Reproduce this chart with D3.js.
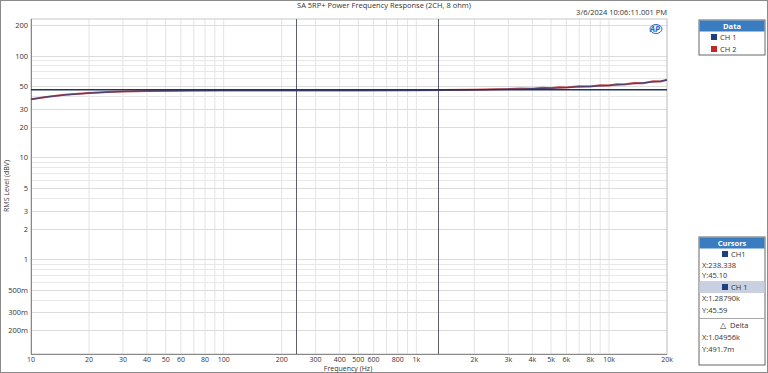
<!DOCTYPE html>
<html>
<head>
<meta charset="utf-8">
<script src="https://cdn.jsdelivr.net/npm/d3@7"></script>
<style>
  body { margin: 0; background: #fff; }
  svg text { font-family: "Open Sans", "Noto Sans", sans-serif; }
</style>
</head>
<body>
<div id="chart"></div>
<script>
const freq = [10, 12, 15, 20, 25, 30, 40, 50, 70, 100, 200, 500, 1000, 2000, 3000, 3500, 4000, 4500, 5000, 5500, 6000, 7000, 8000, 9000, 10000, 11000, 12000, 13500, 15000, 17000, 18500, 20000];
const ch1 = [37.2, 39.3, 41.2, 42.9, 43.8, 44.4, 44.9, 45.1, 45.3, 45.4, 45.5, 45.5, 45.6, 46.2, 46.8, 47.0, 47.4, 47.6, 48.0, 48.2, 48.6, 49.2, 49.8, 50.4, 51.0, 51.6, 52.3, 53.0, 54.0, 55.2, 56.2, 57.5];
const ch2 = [37.2, 39.3, 41.2, 42.9, 43.8, 44.4, 44.9, 45.1, 45.3, 45.4, 45.5, 45.5, 45.6, 46.3, 46.9, 47.6, 47.3, 48.3, 47.9, 49.0, 48.6, 50.0, 49.6, 51.2, 50.8, 52.4, 52.0, 53.8, 53.6, 56.0, 55.6, 58.0];
const refLevel = 46.2;
const cursorX = [238.338, 1287.90];

const xTicks = [10, 20, 30, 40, 50, 60, 80, 100, 200, 300, 400, 500, 600, 800, 1000, 2000, 3000, 4000, 5000, 6000, 8000, 10000, 20000];
const xTickLabels = ['10', '20', '30', '40', '50', '60', '80', '100', '200', '300', '400', '500', '600', '800', '1k', '2k', '3k', '4k', '5k', '6k', '8k', '10k', '20k'];
const yTicks = [0.2, 0.3, 0.5, 1, 2, 3, 5, 10, 20, 30, 50, 100, 200];
const yTickLabels = ['200m', '300m', '500m', '1', '2', '3', '5', '10', '20', '30', '50', '100', '200'];

const series = [
  { name: 'CH 1', color: '#1f3f7f', values: ch1 },
  { name: 'CH 2', color: '#c0282d', values: ch2 }
];
const cursorRows = [
  { type: 'ch', text: 'CH1' },
  { type: 'val', text: 'X:238.338' },
  { type: 'val', text: 'Y:45.10' },
  { type: 'chsel', text: 'CH 1' },
  { type: 'val', text: 'X:1.28790k' },
  { type: 'val', text: 'Y:45.59' },
  { type: 'delta', text: 'Delta' },
  { type: 'val', text: 'X:1.04956k' },
  { type: 'val', text: 'Y:491.7m' }
];

const width = 768;
const height = 373;
const m = { left: 31, right: 667, top: 19, bottom: 354 };

const x = d3.scaleLog().domain([10, 20000]).range([m.left, m.right]);
const y = d3.scaleLog().domain([0.117, 229]).range([m.bottom, m.top]);

const svg = d3.select('#chart').append('svg')
  .attr('width', width)
  .attr('height', height);

// window frame
svg.append('rect').attr('x', 0.5).attr('y', 0.5).attr('width', width - 1).attr('height', height - 1)
  .attr('fill', '#fff').attr('stroke', '#8a8a8a');

// minor grid
const xMinor = [];
for (let d = 10; d < 20000; d *= 10) for (let k = 1; k < 10; k++) if (d * k <= 20000) xMinor.push(d * k);
const yMinor = [];
for (let d = 0.1; d < 229; d *= 10) for (let k = 1; k < 10; k++) if (d * k >= 0.117 && d * k <= 229) yMinor.push(d * k);

svg.append('g').selectAll('line').data(xMinor).join('line')
  .attr('x1', d => x(d)).attr('x2', d => x(d)).attr('y1', m.top).attr('y2', m.bottom)
  .attr('stroke', '#e4e4e4').attr('stroke-width', 1);
svg.append('g').selectAll('line').data(yMinor).join('line')
  .attr('x1', m.left).attr('x2', m.right).attr('y1', d => Math.round(y(d)) + 0.5).attr('y2', d => Math.round(y(d)) + 0.5)
  .attr('stroke', '#e8e8e8').attr('stroke-width', 1);
svg.append('g').selectAll('line').data(yTicks).join('line')
  .attr('x1', m.left).attr('x2', m.right).attr('y1', d => Math.round(y(d)) + 0.5).attr('y2', d => Math.round(y(d)) + 0.5)
  .attr('stroke', '#dcdcdc').attr('stroke-width', 1);

// plot frame
svg.append('rect').attr('x', m.left).attr('y', m.top).attr('width', m.right - m.left).attr('height', m.bottom - m.top)
  .attr('fill', 'none').attr('stroke', '#c8c8c8');
svg.append('line').attr('x1', m.left + 0.5).attr('x2', m.left + 0.5).attr('y1', m.top).attr('y2', m.bottom)
  .attr('stroke', '#888');
svg.append('line').attr('x1', m.left).attr('x2', m.right).attr('y1', m.bottom + 0.5).attr('y2', m.bottom + 0.5)
  .attr('stroke', '#888');

// axes labels
svg.append('g').selectAll('text').data(xTicks).join('text')
  .attr('x', d => x(d)).attr('y', 362)
  .attr('text-anchor', 'middle').attr('font-size', 7).attr('fill', '#333')
  .text((d, i) => xTickLabels[i]);
svg.append('g').selectAll('text').data(yTicks).join('text')
  .attr('x', 28).attr('y', d => y(d) + 3)
  .attr('text-anchor', 'end').attr('font-size', 7.5).attr('fill', '#333')
  .text((d, i) => yTickLabels[i]);

svg.append('text').attr('x', 348).attr('y', 371).attr('text-anchor', 'middle')
  .attr('font-size', 7).attr('fill', '#333').text('Frequency (Hz)');
svg.append('text').attr('transform', 'translate(9,186) rotate(-90)').attr('text-anchor', 'middle')
  .attr('font-size', 7).attr('fill', '#333').text('RMS Level (dBV)');

// title and date
svg.append('text').attr('x', 384).attr('y', 8).attr('text-anchor', 'middle')
  .attr('font-size', 7.5).attr('fill', '#333').text('SA 5RP+ Power Frequency Response (2CH, 8 ohm)');
svg.append('text').attr('x', 667).attr('y', 15).attr('text-anchor', 'end')
  .attr('font-size', 7.5).attr('fill', '#333').text('3/6/2024 10:06:11.001 PM');
svg.append('ellipse').attr('cx', 656).attr('cy', 29).attr('rx', 6).attr('ry', 4.5)
  .attr('fill', 'none').attr('stroke', '#2a66c8').attr('stroke-width', 1);
svg.append('text').attr('x', 655).attr('y', 32).attr('text-anchor', 'middle')
  .attr('font-size', 8).attr('font-weight', 'bold').attr('font-style', 'italic').attr('fill', '#2a66c8').text('AP');

// cursor lines
svg.append('g').selectAll('line').data(cursorX).join('line')
  .attr('x1', d => Math.round(x(d)) + 0.5).attr('x2', d => Math.round(x(d)) + 0.5).attr('y1', m.top).attr('y2', m.bottom)
  .attr('stroke', '#5a6070').attr('stroke-width', 1);

// data lines: CH 2 drawn first, CH 1 on top
const line = d3.line().x((d, i) => x(freq[i])).y(d => y(d));
svg.append('g').selectAll('path').data(series.slice().reverse()).join('path')
  .attr('d', s => line(s.values))
  .attr('fill', 'none').attr('stroke', s => s.color)
  .attr('stroke-width', s => s.name === 'CH 2' ? 2 : 1.2)
  .attr('stroke-linejoin', 'round')
  .attr('opacity', s => s.name === 'CH 2' ? 0.85 : 0.75);

// reference level line
svg.append('line').attr('x1', m.left).attr('x2', m.right).attr('y1', y(refLevel)).attr('y2', y(refLevel))
  .attr('stroke', '#1f3560').attr('stroke-width', 1.3);

// Data legend panel
const lg = svg.append('g').attr('transform', 'translate(699,20)');
lg.append('rect').attr('width', 66).attr('height', 35).attr('fill', '#fff').attr('stroke', '#666');
lg.append('rect').attr('x', 0.5).attr('y', 0.5).attr('width', 65).attr('height', 11).attr('fill', '#3a7cc0');
lg.append('text').attr('x', 33).attr('y', 9).attr('text-anchor', 'middle').attr('font-size', 7.5)
  .attr('font-weight', 'bold').attr('fill', '#fff').text('Data');
const li = lg.selectAll('g.item').data(series).join('g').attr('class', 'item')
  .attr('transform', (d, i) => `translate(12,${14 + i * 12})`);
li.append('rect').attr('width', 6).attr('height', 6).attr('fill', d => d.color);
li.append('text').attr('x', 9).attr('y', 6).attr('font-size', 7.5).attr('fill', '#333').text(d => d.name);

// Cursors panel
const cp = svg.append('g').attr('transform', 'translate(699,237)');
cp.append('rect').attr('width', 66).attr('height', 128).attr('fill', '#fff').attr('stroke', '#666');
cp.append('rect').attr('x', 0.5).attr('y', 0.5).attr('width', 65).attr('height', 11).attr('fill', '#3a7cc0');
cp.append('text').attr('x', 33).attr('y', 9).attr('text-anchor', 'middle').attr('font-size', 7.5)
  .attr('font-weight', 'bold').attr('fill', '#fff').text('Cursors');
cp.append('rect').attr('x', 0.5).attr('y', 44).attr('width', 65).attr('height', 12).attr('fill', '#c9d0e0');
cp.append('line').attr('x1', 0).attr('x2', 66).attr('y1', 81.5).attr('y2', 81.5).attr('stroke', '#aaa');
const rowY = [17, 28, 38, 50, 61, 73, 88, 100, 112];
cursorRows.forEach((r, i) => {
  if (r.type === 'ch' || r.type === 'chsel') {
    cp.append('rect').attr('x', 23).attr('y', rowY[i] - 3).attr('width', 6).attr('height', 6).attr('fill', '#1f3f7f');
    cp.append('text').attr('x', 32).attr('y', rowY[i] + 3).attr('font-size', 7.5).attr('fill', '#333').text(r.text);
  } else if (r.type === 'delta') {
    cp.append('text').attr('x', 21).attr('y', rowY[i] + 3).attr('font-size', 8).attr('fill', '#333').text('\u25B3');
    cp.append('text').attr('x', 31).attr('y', rowY[i] + 3).attr('font-size', 7.5).attr('fill', '#333').text(r.text);
  } else {
    cp.append('text').attr('x', 3).attr('y', rowY[i] + 3).attr('font-size', 7.5).attr('fill', '#333').text(r.text);
  }
});
</script>
</body>
</html>
